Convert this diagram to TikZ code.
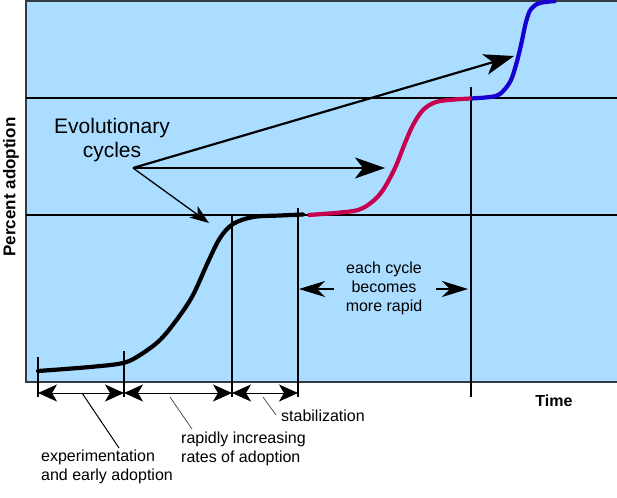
\documentclass[tikz,border=0pt]{standalone}
\usepackage{fontspec}
\setmainfont{Liberation Sans}
\usetikzlibrary{arrows.meta}
\definecolor{skyfill}{RGB}{170,221,255}
\definecolor{frame}{RGB}{50,58,66}
\definecolor{cyclered}{RGB}{200,0,80}
\definecolor{cycleblue}{RGB}{25,0,210}
\tikzset{
  grid/.style={draw=black, line width=1.1pt},
  dimarrow/.style={line width=1pt, {Stealth[length=19pt,width=17pt,inset=5pt]}-{Stealth[length=19pt,width=17pt,inset=5pt]}},
  leader/.style={draw=black!75, line width=0.7pt},
  lbl/.style={font=\fontsize{16}{19}\selectfont, align=center, inner sep=0pt},
  lbll/.style={font=\fontsize{16}{19}\selectfont, align=left, inner sep=0pt},
  bigarrow/.style={line width=2.2pt, -{Stealth[length=30pt,width=21pt,inset=8pt]}},
  thinarrow/.style={line width=1.3pt, -{Stealth[length=19pt,width=14pt,inset=5pt]}},
  rapidarrow/.style={line width=1.3pt, -{Stealth[length=26pt,width=16pt,inset=8pt]}},
}
\begin{document}
\begin{tikzpicture}[x=1pt,y=-1pt]
\useasboundingbox (0,0) rectangle (617,497);
% background panel
\fill[skyfill] (25,0) rectangle (617,382);
\draw[frame, line width=2pt] (617,1) -- (26,1) -- (26,382) -- (617,382);
% horizontal grid lines
\draw[grid] (26,98) -- (617,98);
\draw[grid] (26,215) -- (617,215);
% vertical ticks
\coordinate (v1t) at (38,357);  \coordinate (v1b) at (38,397);
\coordinate (v2t) at (124,351); \coordinate (v2b) at (124,397);
\coordinate (v3t) at (232,215); \coordinate (v3b) at (232,397);
\coordinate (v4t) at (298,208); \coordinate (v4b) at (298,397);
\coordinate (v5t) at (471,87);  \coordinate (v5b) at (471,397);
\foreach \i in {1,...,5} \draw[grid] (v\i t) -- (v\i b);
% dimension arrows
\coordinate (d1) at (38,393);
\coordinate (d2) at (124,393);
\coordinate (d3) at (232,393);
\coordinate (d4) at (298,393);
\draw[dimarrow] (d1) -- (d2);
\draw[dimarrow] (d2) -- (d3);
\draw[dimarrow] (d3) -- (d4);
% curves
\draw[line width=4.2pt, line cap=round, line join=round] plot[smooth, tension=0.55] coordinates {(38,371) (90,367) (123,363) (140,355) (160,340) (178,318) (193,295) (208,262) (220,238) (233,224) (253,217) (280,215.5) (303,214.5)};
\draw[cyclered, line width=4.2pt, line join=round] plot[smooth, tension=0.55] coordinates {(308,215) (335,213) (358,210) (372,202) (383,190) (395,168) (405,143) (413,125) (423,110) (436,102) (455,99.5) (471,98.5)};
\draw[cycleblue, line width=4.2pt, line join=round] plot[smooth, tension=0.55] coordinates {(471,98.5) (490,97) (500,94) (510,82) (516,65) (521,45) (526,22) (531,9) (540,3) (556,1)};
% labels
\node[font=\fontsize{21}{24}\selectfont, align=center, inner sep=0pt] (evo) at (112,140) {Evolutionary\\cycles};
\coordinate (src) at (133,168);
\coordinate (tipA) at (209,223);
\coordinate (tipB) at (385,168);
\coordinate (tipC) at (514,56);
\draw[thinarrow] (src) -- (tipA);
\draw[bigarrow] (src) -- (tipB);
\draw[bigarrow] (src) -- (tipC);
\node[lbl] (rapid) at (384,288) {each cycle\\becomes\\more rapid};
\coordinate (ra1) at (334,289);
\coordinate (ra2) at (436,289);
\coordinate (rt1) at (299,289);
\coordinate (rt2) at (468,289);
\draw[rapidarrow] (ra1) -- (rt1);
\draw[rapidarrow] (ra2) -- (rt2);
\node[font=\fontsize{16}{19}\selectfont\bfseries, inner sep=0pt] (time) at (554,401) {Time};
\node[font=\fontsize{17}{19}\selectfont\bfseries, inner sep=0pt, rotate=90] (pct) at (11,187) {Percent adoption};
\node[lbll, anchor=west] (exp) at (41,467) {experimentation\\and early adoption};
\node[lbll, anchor=west] (rap) at (181,449) {rapidly increasing\\rates of adoption};
\node[lbll, anchor=west] (stab) at (281,416) {stabilization};
\coordinate (l1a) at (82,393);  \coordinate (l1b) at (119,448);
\coordinate (l2a) at (170,397); \coordinate (l2b) at (192,429);
\coordinate (l3a) at (263,397); \coordinate (l3b) at (276,415);
\draw[leader, draw=black, line width=1pt] (l1a) -- (l1b);
\draw[leader] (l2a) -- (l2b);
\draw[leader] (l3a) -- (l3b);
\end{tikzpicture}
\end{document}
